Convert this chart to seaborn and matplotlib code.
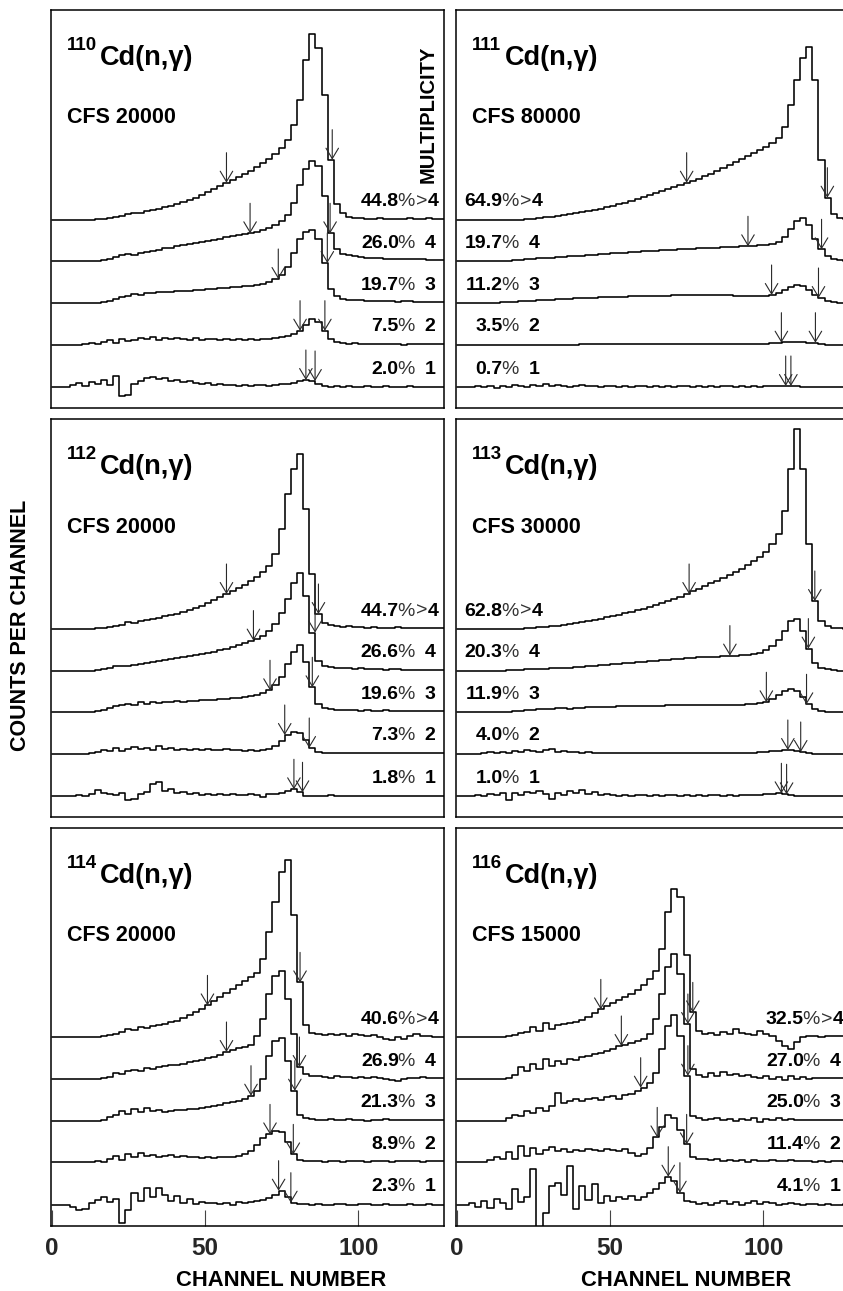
import numpy as np
import matplotlib
matplotlib.use("Agg")
import matplotlib.pyplot as plt
import seaborn as sns

sns.set_theme(style="white")
plt.rcParams['font.family'] = ['Liberation Sans', 'DejaVu Sans']

# ---------------- data (counts per 2-channel bin, in display units above each trace baseline) ----------------
CHANNEL_EDGES = list(range(0, 130, 2))          # 64 bins, 0..128
MULTS = [">4", "4", "3", "2", "1"]
ISOTOPES = ["110", "111", "112", "113", "114", "116"]
CFS = ["20000", "80000", "20000", "30000", "20000", "15000"]

PCT_110 = ["44.8", "26.0", "19.7", "7.5", "2.0"]
PCT_111 = ["64.9", "19.7", "11.2", "3.5", "0.7"]
PCT_112 = ["44.7", "26.6", "19.6", "7.3", "1.8"]
PCT_113 = ["62.8", "20.3", "11.9", "4.0", "1.0"]
PCT_114 = ["40.6", "26.9", "21.3", "8.9", "2.3"]
PCT_116 = ["32.5", "27.0", "25.0", "11.4", "4.1"]

CD110_M5 = [0,0,0,0,0,0,0,1,1,2,3,4,6,7,7,9,
            10,11,13,14,16,18,20,22,25,28,31,34,37,40,43,46,
            49,53,57,61,66,72,80,95,120,160,186,172,125,60,16,7,
            3,2,2,1,1,2,1,1,1,1,2,1,1,2,1,1]
CD110_M4 = [0,0,0,0,0,0,0,0,1,2,4,6,7,6,8,9,
            10,11,13,13,15,16,17,18,19,20,21,22,24,25,26,27,
            28,29,31,33,36,40,46,58,76,92,100,95,65,28,12,7,
            6,5,4,3,3,3,2,2,2,2,2,2,2,1,1,1]
CD110_M3 = [0,0,0,0,0,0,0,0,1,2,4,6,7,9,8,10,
            10,11,11,11,12,12,12,13,13,14,14,15,15,16,16,17,
            17,18,19,21,24,28,36,50,64,71,73,64,40,14,7,4,
            3,3,3,2,2,2,2,2,1,2,2,1,1,1,1,1]
CD110_M2 = [0,0,0,0,0,1,2,1,3,5,2,6,4,5,7,6,
            8,5,7,6,7,6,5,7,5,6,6,5,6,5,6,5,
            6,5,6,6,7,8,9,11,14,20,26,23,14,6,3,2,
            1,2,1,1,1,1,1,1,1,0,1,1,1,1,1,1]
CD110_M1 = [0,0,0,2,4,1,5,3,7,2,11,-9,-8,3,6,9,
            10,8,9,6,7,5,6,4,3,4,2,3,2,2,1,2,
            1,2,2,1,2,3,3,4,6,7,6,3,1,0,1,0,
            1,0,0,1,0,0,1,0,0,0,1,0,0,0,0,0]

CD111_M5 = [0,0,0,0,0,0,0,0,0,0,0,1,1,2,3,3,
            4,5,6,7,8,9,10,11,13,14,16,17,19,21,23,25,
            27,29,31,33,35,37,39,41,44,46,49,52,55,58,61,64,
            67,70,73,77,82,93,115,140,162,173,140,60,22,6,2,1]
CD111_M4 = [0,0,0,0,0,0,0,0,0,1,1,2,2,3,3,3,
            4,4,5,5,5,6,6,7,7,8,8,8,9,9,10,10,
            10,11,11,11,12,12,12,13,13,13,13,14,14,14,15,15,
            15,16,16,17,19,24,32,40,43,36,22,12,5,2,1,0]
CD111_M3 = [0,0,0,0,0,0,0,1,1,1,2,2,2,3,3,3,
            4,4,4,5,5,5,5,6,6,6,6,6,7,7,7,7,
            7,7,7,8,8,8,8,8,8,8,8,8,8,7,7,7,
            7,7,7,8,10,13,16,18,17,13,8,5,2,1,0,0]
CD111_M2 = [0,0,0,0,0,0,0,0,0,0,0,0,0,0,0,0,
            0,0,0,0,1,1,1,1,1,1,1,1,1,1,1,1,
            1,1,1,1,1,1,1,1,1,1,1,1,1,1,1,1,
            1,1,1,2,2,3,3,3,3,2,2,1,0,0,0,0]
CD111_M1 = [0,0,0,1,0,1,-1,1,0,2,1,0,2,1,3,1,
            2,1,0,1,2,1,1,0,1,1,0,1,0,1,1,0,
            1,0,1,0,1,1,0,1,0,1,0,1,1,0,1,0,
            1,0,1,1,1,1,1,1,0,0,0,0,0,0,0,0]

CD112_M5 = [0,0,0,0,0,0,0,1,1,2,3,4,7,6,8,9,
            10,11,13,14,15,17,19,21,23,26,29,32,35,38,41,44,
            48,52,57,63,75,100,135,160,175,120,55,15,6,4,3,2,
            3,2,2,1,2,1,1,1,2,1,1,1,1,1,1,1]
CD112_M4 = [0,0,0,0,0,0,0,1,2,3,5,5,5,6,7,8,
            9,10,11,12,13,14,15,16,17,18,19,21,22,24,26,28,
            30,32,35,40,47,58,72,88,98,75,38,10,5,4,3,3,
            3,2,3,2,2,2,1,2,2,1,1,1,1,1,1,1]
CD112_M3 = [0,0,0,0,0,0,0,1,2,4,6,7,8,7,10,8,
            10,9,10,10,11,10,11,11,12,12,12,13,13,14,14,15,
            16,17,19,22,27,35,48,60,67,50,25,8,4,3,2,2,
            2,2,1,2,1,1,2,1,1,1,1,1,1,1,1,1]
CD112_M2 = [0,0,0,0,0,0,1,2,4,3,6,3,5,7,5,6,
            4,8,5,6,4,5,4,5,4,5,4,4,5,4,4,3,
            4,3,4,5,8,13,19,22,21,14,6,2,1,1,1,1,
            1,1,1,1,1,1,1,1,1,1,1,1,1,1,1,1]
CD112_M1 = [0,0,0,0,1,0,2,6,3,2,1,3,-4,-3,2,4,
            12,14,5,7,3,4,2,3,1,2,1,2,1,2,1,1,
            2,1,-1,2,2,3,5,7,4,0,0,0,0,1,0,0,
            0,0,0,0,0,0,0,0,0,0,0,0,0,0,0,0]

CD113_M5 = [0,0,0,0,0,0,0,0,0,0,0,1,1,2,2,3,
            3,4,5,6,7,8,9,10,12,13,14,16,17,19,20,22,
            24,26,28,30,32,35,38,40,43,46,48,51,54,57,60,64,
            68,72,77,85,95,118,160,200,160,85,28,8,3,1,1,0]
CD113_M4 = [0,0,0,0,0,0,0,0,1,1,1,2,2,2,2,3,
            3,3,3,4,4,5,5,6,6,7,7,8,8,9,9,10,
            10,11,11,12,12,13,13,14,14,14,14,15,15,15,16,16,
            17,18,21,25,31,40,50,52,40,22,8,3,2,1,0,0]
CD113_M3 = [0,0,0,0,0,0,0,0,0,1,1,2,2,3,3,3,
            4,4,3,4,4,5,5,5,5,5,6,6,6,6,6,6,
            6,6,7,7,7,7,7,7,7,7,7,7,7,7,7,8,
            8,9,10,13,17,21,23,21,15,8,3,1,0,0,0,0]
CD113_M2 = [0,0,0,0,1,2,1,2,1,3,2,4,3,2,4,5,
            2,3,2,2,1,2,1,1,1,1,1,1,1,1,1,1,
            1,1,1,1,1,1,1,1,1,1,1,1,1,1,1,1,
            1,2,2,3,3,4,4,3,2,1,0,0,0,0,0,0]
CD113_M1 = [0,0,0,1,0,2,1,3,-4,3,1,4,3,5,2,-3,
            3,1,5,3,6,2,4,1,2,1,0,1,0,1,1,0,
            1,0,1,1,0,1,0,1,0,1,1,0,1,0,1,1,
            1,1,2,2,3,2,1,0,0,0,0,0,0,0,0,0]

CD114_M5 = [0,0,0,0,0,0,0,0,1,2,3,5,8,7,10,9,
            11,12,13,15,16,19,22,25,28,32,36,40,44,48,52,56,
            60,64,78,105,135,165,177,122,55,12,4,3,2,3,2,3,
            1,3,2,1,2,0,-2,-3,0,-2,1,3,1,1,0,0]
CD114_M4 = [0,0,0,0,0,0,0,0,1,2,6,5,8,9,8,11,
            10,12,13,14,14,15,17,18,19,21,22,24,27,29,31,32,
            34,43,60,85,103,108,80,45,12,5,3,3,2,1,3,2,
            2,1,2,1,2,1,0,-1,-2,0,1,1,2,1,1,1]
CD114_M3 = [0,0,0,0,0,0,0,0,1,4,6,10,7,12,9,13,
            10,11,9,10,11,11,12,12,13,14,15,16,18,19,20,22,
            25,30,42,65,80,83,60,30,6,3,2,1,1,2,1,1,
            2,1,1,0,1,1,2,1,1,1,1,1,1,1,1,1]
CD114_M2 = [0,0,0,0,0,0,0,1,0,3,6,2,8,5,9,6,
            7,5,6,7,5,6,5,5,4,5,4,5,5,5,6,8,
            11,17,24,28,31,30,20,8,2,1,1,1,0,1,1,0,
            1,1,1,0,1,1,1,0,1,1,1,1,0,1,1,1]
CD114_M1 = [0,0,0,-2,-5,-4,2,5,8,3,6,-18,-5,12,4,17,
            8,17,10,4,9,2,6,1,3,2,2,1,2,0,3,2,
            3,4,5,7,10,14,8,2,1,1,0,1,0,0,1,1,
            0,0,1,1,0,0,1,0,0,0,1,0,0,1,0,0]

CD116_M5 = [0,0,0,0,0,0,0,0,1,2,4,5,10,6,14,8,
            12,13,14,15,17,20,24,28,31,34,37,40,43,47,52,58,
            66,88,125,148,140,82,25,6,3,4,2,5,3,8,4,3,
            2,6,3,1,-4,-9,-12,-5,0,1,1,0,1,1,1,1]
CD116_M4 = [0,0,0,0,0,0,0,0,1,4,12,8,15,10,20,13,
            18,15,20,19,22,23,25,26,28,30,33,34,36,38,40,45,
            60,85,112,125,105,55,10,4,2,6,3,7,4,5,3,4,
            2,1,3,0,2,-1,3,0,2,0,1,1,1,1,1,1]
CD116_M3 = [0,0,0,0,0,0,0,0,3,6,5,10,8,13,10,15,
            28,18,20,22,20,22,23,21,24,25,22,26,27,30,33,38,
            48,72,95,106,85,45,5,3,1,2,3,1,2,0,2,1,
            3,-1,2,1,3,1,2,1,1,1,1,1,1,1,1,1]
CD116_M2 = [0,0,0,0,0,2,5,3,10,3,16,6,14,8,12,15,
            11,13,10,12,11,13,12,11,13,12,11,13,9,6,8,14,
            25,35,47,44,32,18,5,3,3,2,3,1,2,1,2,0,
            2,1,1,2,1,1,2,1,1,1,0,1,0,1,1,0]
CD116_M1 = [0,0,2,-2,4,-3,6,2,-4,16,3,8,36,-30,-8,19,
            22,10,39,-4,19,5,21,2,9,4,8,6,9,5,8,12,
            16,22,28,24,12,4,3,1,2,0,2,4,1,3,0,2,
            4,1,3,2,0,1,2,1,0,1,1,0,1,0,0,1]

# arrow channels (left, right) for multiplicities >4,4,3,2,1
ARR_110 = [(57, 91.5), (64.7, 90.8), (73.9, 89.9), (81, 89.1), (82.9, 85.9)]
ARR_111 = [(75, 120.9), (95, 119), (102.7, 118), (105.9, 117), (107.3, 109)]
ARR_112 = [(57, 87), (65.8, 85.9), (71.2, 85), (76, 84), (79, 81.8)]
ARR_113 = [(75.8, 116.8), (89.1, 114.7), (101, 114.1), (108, 112.2), (105.9, 107.6)]
ARR_114 = [(50.8, 81), (57, 80.8), (65, 79.3), (71.2, 78.8), (74, 78)]
ARR_116 = [(47, 77), (53.7, 75.4), (60, 75.4), (65.4, 75), (69, 72.8)]

SPECTRA = [
    [CD110_M5, CD110_M4, CD110_M3, CD110_M2, CD110_M1],
    [CD111_M5, CD111_M4, CD111_M3, CD111_M2, CD111_M1],
    [CD112_M5, CD112_M4, CD112_M3, CD112_M2, CD112_M1],
    [CD113_M5, CD113_M4, CD113_M3, CD113_M2, CD113_M1],
    [CD114_M5, CD114_M4, CD114_M3, CD114_M2, CD114_M1],
    [CD116_M5, CD116_M4, CD116_M3, CD116_M2, CD116_M1],
]
PCTS = [PCT_110, PCT_111, PCT_112, PCT_113, PCT_114, PCT_116]
ARROWS = [ARR_110, ARR_111, ARR_112, ARR_113, ARR_114, ARR_116]

# ---------------- layout ----------------
W, H = 843, 1291
fig = plt.figure(figsize=(W / 100, H / 100), dpi=100)
fig.patch.set_facecolor("white")

PANEL_W = 393.6
PANEL_H = 398.0
COL_LEFT = [50.7, 455.7]
ROW_TOP = [10.0, 419.3, 827.7]
BASES = [188.3, 146.7, 105.0, 63.3, 21.0]     # trace baselines (px from panel bottom)
XLIM = (-0.33, 128.05)
LABEL_SIDE = ["right", "left", "right", "left", "right", "right"]
LW = 1.15
LFS = 14

for p in range(6):
    r, c = divmod(p, 2)
    left = COL_LEFT[c] / W
    bottom = (H - ROW_TOP[r] - PANEL_H) / H
    ax = fig.add_axes([left, bottom, PANEL_W / W, PANEL_H / H])
    ax.set_facecolor("white")
    ax.set_xlim(*XLIM)
    ax.set_ylim(0, PANEL_H)
    ax.set_yticks([])
    for s in ax.spines.values():
        s.set_color("black")
        s.set_linewidth(1.1)
        s.set_visible(True)

    edges = np.array(CHANNEL_EDGES, dtype=float)
    for k in range(5):
        vals = np.array(SPECTRA[p][k], dtype=float)
        y = np.append(vals, vals[-1]) + BASES[k]
        sns.lineplot(x=edges, y=y, ax=ax, drawstyle="steps-post", color="black",
                     lw=LW, estimator=None, sort=False, legend=False)
        # window arrows
        for ch in ARROWS[p][k]:
            tip = vals[min(int(ch // 2), len(vals) - 1)] + BASES[k]
            ax.annotate("", xy=(ch, tip), xytext=(ch, tip + 30),
                        arrowprops=dict(arrowstyle="->,head_length=0.75,head_width=0.45",
                                        color="#2a2a2a", lw=0.8, shrinkA=0, shrinkB=0,
                                        mutation_scale=10))
        # percentage / multiplicity labels
        ylab = BASES[k] + 13.5
        if LABEL_SIDE[p] == "right":
            xnum, xgt, x4, xd = 113.2, 118.9, 122.6, 121.6
        else:
            xnum, xgt, x4, xd = 15.0, 20.7, 24.4, 23.4
        ax.text(xnum, ylab, PCTS[p][k], ha="right", va="baseline", fontsize=LFS,
                fontweight="bold", color="black")
        ax.text(xnum - 0.5, ylab, "%", ha="left", va="baseline", fontsize=LFS,
                fontweight="normal", color="#333333")
        m = MULTS[k]
        if m.startswith(">"):
            ax.text(xgt, ylab, ">", ha="left", va="baseline", fontsize=LFS,
                    fontweight="normal", color="#333333")
            ax.text(x4, ylab, m[1:], ha="left", va="baseline", fontsize=LFS,
                    fontweight="bold", color="black")
        else:
            ax.text(xd, ylab, m, ha="left", va="baseline", fontsize=LFS,
                    fontweight="bold", color="black")

    # titles
    ax.text(5.0, 358, ISOTOPES[p], ha="left", va="baseline", fontsize=13.5,
            fontweight="bold", color="black")
    ax.text(15.6, 343, "Cd(n,γ)", ha="left", va="baseline", fontsize=19.5,
            fontweight="bold", color="black")
    ax.text(4.9, 284.7, "CFS " + CFS[p], ha="left", va="baseline", fontsize=15.5,
            fontweight="bold", color="black")

    if r == 2:
        ax.set_xticks([0, 50, 100])
        ax.set_xticklabels(["0", "50", "100"])
        ax.tick_params(axis="x", direction="in", length=11.5, width=0.8,
                       color="#444444", pad=8, labelsize=17.5, bottom=True)
        for lab in ax.get_xticklabels():
            lab.set_fontweight("bold")
        ax.text(74.8, -60.0, "CHANNEL NUMBER", ha="center", va="baseline",
                fontsize=15.8, fontweight="bold", color="black", clip_on=False)
    else:
        ax.set_xticks([])

    if p == 0:
        ax.text(122.9, 294, "MULTIPLICITY", ha="center", va="center", rotation=90,
                fontsize=14.5, fontweight="bold", color="black")

fig.text(20.5 / W, (H - 625) / H, "COUNTS PER CHANNEL", ha="center", va="center",
         rotation=90, fontsize=15.5, fontweight="bold", color="black")

fig.savefig("out.png", dpi=100, facecolor="white")
